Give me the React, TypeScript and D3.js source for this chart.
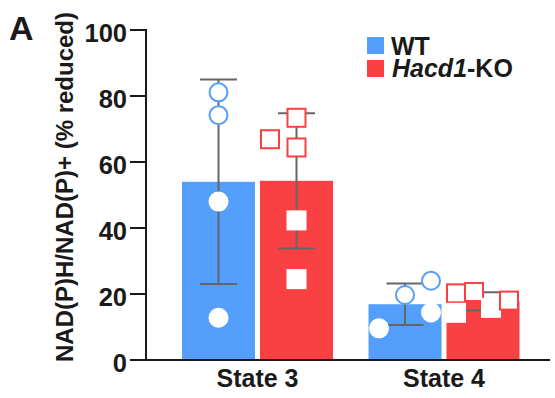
import React, { useEffect, useRef } from 'react';
import * as d3 from 'd3';

// categories / groups
const states = ['State 3', 'State 4'];
const groups = ['WT', 'Hacd1-KO'];
const colors = ['#549ffb', '#f94042'];

// bar heights (mean) and SD
const means = [
  [54.0, 54.3], // State 3: WT, KO
  [16.9, 17.8], // State 4: WT, KO
];
const sds = [
  [31.0, 20.5],
  [6.3, 2.7],
];

// individual points
const points = [
  [
    [81.1, 74.2, 48.0, 12.8],
    [73.4, 66.9, 64.4, 42.3, 24.5],
  ],
  [
    [9.6, 19.7, 24.0, 14.4],
    [20.2, 20.6, 14.3, 15.8, 18.0],
  ],
];
// horizontal scatter of the points, in px from the bar centre
const jitter = [
  [
    [0, 0, 0, 0],
    [0, -26.5, 0, 0, 0],
  ],
  [
    [-26, 0, 26, 26],
    [-27, -9, -27, 8, 26],
  ],
];

const yTicks = [0, 20, 40, 60, 80, 100];

export default function App() {
  const ref = useRef<SVGSVGElement>(null);

  useEffect(() => {
    const svg = d3.select(ref.current);
    svg.selectAll('*').remove();
    const font = "'Liberation Sans', Arial, sans-serif";
    const ink = '#1a1a1a';

    const y = d3.scaleLinear().domain([0, 100]).range([360, 30]);
    const x = d3.scalePoint<string>().domain(states).range([257.5, 444]);
    const sub = d3.scaleBand<string>().domain(groups).range([-75.5, 75.5]).paddingInner(0.064);
    const bw = sub.bandwidth();

    // bars
    states.forEach((s, i) => {
      groups.forEach((g, j) => {
        svg.append('rect')
          .attr('x', x(s)! + sub(g)!)
          .attr('y', y(means[i][j]))
          .attr('width', bw)
          .attr('height', y(0) - y(means[i][j]))
          .attr('fill', colors[j]);
      });
    });

    // error bars
    states.forEach((s, i) => {
      groups.forEach((g, j) => {
        const cx = x(s)! + sub(g)! + bw / 2;
        const lo = y(means[i][j] - sds[i][j]);
        const hi = y(means[i][j] + sds[i][j]);
        const eb = svg.append('g').attr('stroke', '#666').attr('stroke-width', 2);
        eb.append('line').attr('x1', cx).attr('x2', cx).attr('y1', lo).attr('y2', hi);
        eb.append('line').attr('x1', cx - 18.5).attr('x2', cx + 18.5).attr('y1', lo).attr('y2', lo);
        eb.append('line').attr('x1', cx - 18.5).attr('x2', cx + 18.5).attr('y1', hi).attr('y2', hi);
      });
    });

    // points
    states.forEach((s, i) => {
      groups.forEach((g, j) => {
        const cx = x(s)! + sub(g)! + bw / 2;
        points[i][j].forEach((v, k) => {
          const px = cx + jitter[i][j][k];
          const py = y(v);
          const stroke = v > means[i][j] ? colors[j] : '#fff';
          if (j === 0) {
            svg.append('circle')
              .attr('cx', px).attr('cy', py).attr('r', 9)
              .attr('fill', '#fff').attr('stroke', stroke).attr('stroke-width', 2);
          } else {
            svg.append('rect')
              .attr('x', px - 9).attr('y', py - 9).attr('width', 18).attr('height', 18)
              .attr('fill', '#fff').attr('stroke', stroke).attr('stroke-width', 2);
          }
        });
      });
    });

    // y axis
    const ya = svg.append('g').attr('stroke', ink).attr('stroke-width', 2);
    ya.append('line').attr('x1', 146).attr('x2', 146).attr('y1', y(100) - 1).attr('y2', y(0));
    yTicks.forEach(t => {
      ya.append('line').attr('x1', 130).attr('x2', 146).attr('y1', y(t)).attr('y2', y(t));
    });
    svg.selectAll('.ytl').data(yTicks).enter().append('text')
      .attr('x', 127).attr('y', d => y(d)).attr('dy', '0.47em')
      .attr('text-anchor', 'end')
      .attr('font-family', font).attr('font-weight', 'bold').attr('font-size', 25.5)
      .attr('fill', ink)
      .text(d => d);

    // x axis
    svg.append('line').attr('x1', 145).attr('x2', 550).attr('y1', y(0)).attr('y2', y(0))
      .attr('stroke', ink).attr('stroke-width', 2);
    svg.selectAll('.xtl').data(states).enter().append('text')
      .attr('x', d => x(d)!).attr('y', 387)
      .attr('text-anchor', 'middle')
      .attr('font-family', font).attr('font-weight', 'bold').attr('font-size', 25)
      .attr('fill', ink)
      .text(d => d);

    // y title
    svg.append('text')
      .attr('transform', 'translate(73,187) rotate(-90)')
      .attr('text-anchor', 'middle')
      .attr('font-family', font).attr('font-weight', 'bold').attr('font-size', 24)
      .attr('fill', ink)
      .text('NAD(P)H/NAD(P)+ (% reduced)');

    // panel letter
    svg.append('text')
      .attr('x', 9).attr('y', 40)
      .attr('font-family', font).attr('font-weight', 'bold').attr('font-size', 34)
      .attr('fill', ink)
      .text('A');

    // legend
    const lg = svg.append('g').attr('font-family', font).attr('font-weight', 'bold')
      .attr('font-size', 25).attr('fill', ink);
    lg.append('rect').attr('x', 367).attr('y', 37).attr('width', 17).attr('height', 17).attr('fill', colors[0]);
    lg.append('text').attr('x', 391).attr('y', 55).text('WT');
    lg.append('rect').attr('x', 367).attr('y', 60).attr('width', 17).attr('height', 17).attr('fill', colors[1]);
    const t2 = lg.append('text').attr('x', 392).attr('y', 77);
    t2.append('tspan').attr('font-style', 'italic').text('Hacd1');
    t2.append('tspan').text('-KO');
  }, []);

  return (
    <svg ref={ref} width={555} height={398}
      style={{ position: 'absolute', left: 0, top: 0, background: '#fff' }} />
  );
}
